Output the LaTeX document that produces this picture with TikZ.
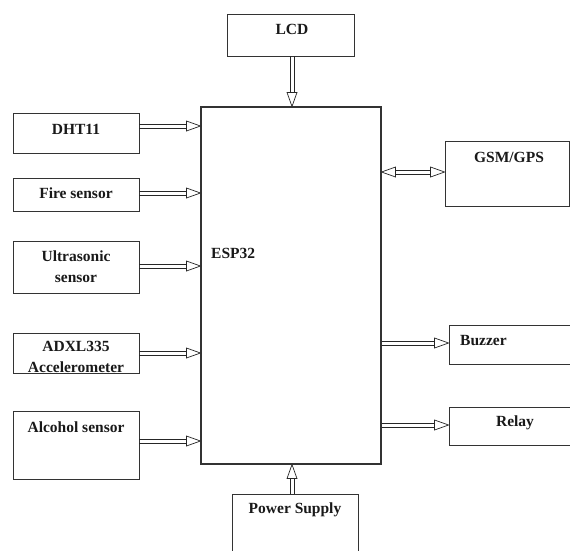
\documentclass[tikz,border=0pt]{standalone}
\usepackage{fontspec}
\setmainfont{Liberation Serif}
\usetikzlibrary{calc}
% double-shaft arrows with open triangular heads
\newcommand\arrR[2]{%
  \draw[ln] ($(#1)+(0,-2)$) -- ($(#2)+(-14,-2)$);
  \draw[ln] ($(#1)+(0,2)$) -- ($(#2)+(-14,2)$);
  \draw[ln, fill=white, line join=miter] ($(#2)+(-14,-5)$) -- (#2) -- ($(#2)+(-14,5)$) -- cycle;}
\newcommand\arrLR[2]{%
  \draw[ln] ($(#1)+(14,-2)$) -- ($(#2)+(-14,-2)$);
  \draw[ln] ($(#1)+(14,2)$) -- ($(#2)+(-14,2)$);
  \draw[ln, fill=white, line join=miter] ($(#2)+(-14,-5)$) -- (#2) -- ($(#2)+(-14,5)$) -- cycle;
  \draw[ln, fill=white, line join=miter] ($(#1)+(14,-5)$) -- (#1) -- ($(#1)+(14,5)$) -- cycle;}
\newcommand\arrD[2]{%
  \draw[ln] ($(#1)+(-2,0)$) -- ($(#2)+(-2,-14)$);
  \draw[ln] ($(#1)+(2,0)$) -- ($(#2)+(2,-14)$);
  \draw[ln, fill=white, line join=miter] ($(#2)+(-5,-14)$) -- (#2) -- ($(#2)+(5,-14)$) -- cycle;}
\newcommand\arrU[2]{%
  \draw[ln] ($(#1)+(-2,0)$) -- ($(#2)+(-2,14)$);
  \draw[ln] ($(#1)+(2,0)$) -- ($(#2)+(2,14)$);
  \draw[ln, fill=white, line join=miter] ($(#2)+(-5,14)$) -- (#2) -- ($(#2)+(5,14)$) -- cycle;}
\begin{document}
\begin{tikzpicture}[x=1pt,y=-1pt,
  box/.style={draw=black!80, line width=0.9pt, rectangle, inner sep=0pt},
  lbl/.style={font=\bfseries\fontsize{15.5}{21}\selectfont, align=center, inner sep=0pt, text=black!90},
  ln/.style={draw=black!85, line width=0.7pt}]
\useasboundingbox (0,0) rectangle (570,550);
\fill[white] (0,0) rectangle (570,550);

% boxes
\node[box, minimum width=127pt, minimum height=42pt] (lcd) at (290.5,35) {};
\node[box, line width=1.1pt, minimum width=180pt, minimum height=357pt] (esp) at (291,285.5) {};
\node[box, minimum width=126pt, minimum height=40pt] (dht) at (76,133) {};
\node[box, minimum width=126pt, minimum height=33pt] (fire) at (76,194.5) {};
\node[box, minimum width=126pt, minimum height=52pt] (ultra) at (76,267) {};
\node[box, minimum width=126pt, minimum height=40pt] (adxl) at (76,353) {};
\node[box, minimum width=126pt, minimum height=68pt] (alc) at (76,445) {};
\node[box, minimum width=124pt, minimum height=65pt] (gsm) at (507,173.5) {};
\node[box, minimum width=126pt, minimum height=39pt] (buzz) at (512,344.5) {};
\node[box, minimum width=126pt, minimum height=38pt] (relay) at (512,426) {};
\node[box, minimum width=126pt, minimum height=66pt] (pow) at (295,527) {};

% labels
\node[lbl] (tlcd) at (292,29) {LCD};
\node[lbl] (tdht) at (76,129) {DHT11};
\node[lbl] (tfire) at (76,193) {Fire sensor};
\node[lbl] (tultra) at (76,266.5) {Ultrasonic\\sensor};
\node[lbl] (tadxl) at (76,356.5) {ADXL335\\Accelerometer};
\node[lbl] (talc) at (76,427) {Alcohol sensor};
\node[lbl, anchor=west] (tesp) at (211,253) {ESP32};
\node[lbl] (tgsm) at (509,157) {GSM/GPS};
\node[lbl, anchor=west] (tbuzz) at (460,341) {Buzzer};
\node[lbl] (trelay) at (515,423) {Relay};
\node[lbl] (tpow) at (295,510) {Power Supply};

% connectors
\coordinate (a1) at ($(lcd.south)+(1.5,0)$);
\coordinate (a1e) at (a1 |- esp.north);
\arrD{a1}{a1e}

\coordinate (a2) at ($(dht.east)+(0,-7)$);
\coordinate (a2e) at (a2 -| esp.west);
\arrR{a2}{a2e}

\coordinate (a3) at ($(fire.east)+(0,-1.5)$);
\coordinate (a3e) at (a3 -| esp.west);
\arrR{a3}{a3e}

\coordinate (a4) at ($(ultra.east)+(0,-1)$);
\coordinate (a4e) at (a4 -| esp.west);
\arrR{a4}{a4e}

\coordinate (a5) at (adxl.east);
\coordinate (a5e) at (a5 -| esp.west);
\arrR{a5}{a5e}

\coordinate (a6) at ($(alc.east)+(0,-4)$);
\coordinate (a6e) at (a6 -| esp.west);
\arrR{a6}{a6e}

\coordinate (g1) at ($(gsm.west)+(0,-1.5)$);
\coordinate (g1s) at (g1 -| esp.east);
\arrLR{g1s}{g1}

\coordinate (b1) at ($(buzz.west)+(0,-1.5)$);
\coordinate (b1s) at (b1 -| esp.east);
\arrR{b1s}{b1}

\coordinate (r1) at ($(relay.west)+(0,-1)$);
\coordinate (r1s) at (r1 -| esp.east);
\arrR{r1s}{r1}

\coordinate (p1) at ($(pow.north)+(-3,0)$);
\coordinate (p1e) at (p1 |- esp.south);
\arrU{p1}{p1e}
\end{tikzpicture}
\end{document}
